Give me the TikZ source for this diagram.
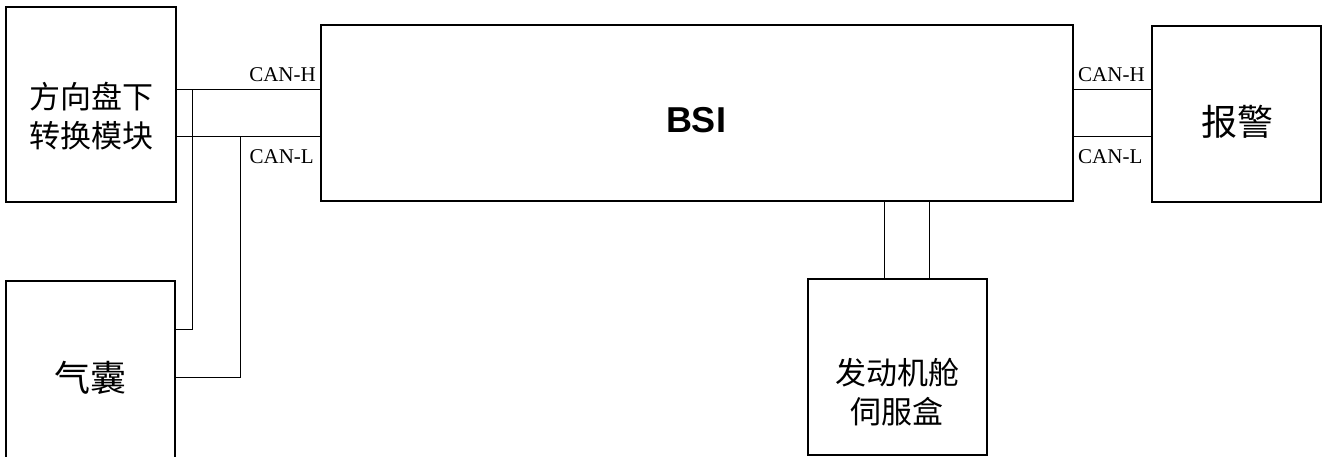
\documentclass[tikz,border=0pt]{standalone}
\usepackage{fontspec}
\setmainfont{Liberation Serif}
\newfontfamily\cjk{Noto Sans CJK SC}
\newfontfamily\arialf{Liberation Sans}
\begin{document}
\begin{tikzpicture}[x=1pt,y=-1pt,
  box/.style={draw,line width=1.6pt,inner sep=0pt,minimum width=#1},
  wire/.style={line width=1pt},
  canlbl/.style={inner sep=0pt,font=\fontsize{21}{24}\selectfont},
  cjklbl/.style={inner sep=0pt,align=center,font=\cjk\fontsize{#1}{39}\selectfont}]
\useasboundingbox (0,0) rectangle (1325,457);
% boxes
\node[box=170pt,minimum height=195pt] (A) at (91,104.5) {};
\node[box=169pt,minimum height=194pt] (B) at (90.5,378) {};
\node[box=752pt,minimum height=176pt] (BSI) at (697,113) {};
\node[box=169pt,minimum height=176pt] (W) at (1236.5,114) {};
\node[box=179pt,minimum height=176pt] (E) at (897.5,367) {};
% texts
\node[cjklbl=31] (tA) at (91,116.5) {方向盘下\\转换模块};
\node[cjklbl=36] (tB) at (90,378) {气囊};
\node[inner sep=0pt,font=\arialf\bfseries\fontsize{36}{40}\selectfont] (tBSI) at (696,120) {BSI};
\node[cjklbl=36] (tW) at (1237,122) {报警};
\node[cjklbl=31] (tE) at (897,392) {发动机舱\\伺服盒};
% helper coordinates
\coordinate (h) at (0,89.5);
\coordinate (l) at (0,137);
\coordinate (v1) at (192,0);
\coordinate (v2) at (240,0);
\coordinate (b1) at (0,329);
\coordinate (b2) at (0,377);
\coordinate (e1) at (884,0);
\coordinate (e2) at (929,0);
% left bus
\draw[wire] (A.east |- h) -- (BSI.west |- h);
\draw[wire] (A.east |- l) -- (BSI.west |- l);
\draw[wire] (v1 |- h) -- (v1 |- b1) -- (B.east |- b1);
\draw[wire] (v2 |- l) -- (v2 |- b2) -- (B.east |- b2);
% right bus
\draw[wire] (BSI.east |- h) -- (W.west |- h);
\draw[wire] (BSI.east |- l) -- (W.west |- l);
% bottom
\draw[wire] (BSI.south -| e1) -- (E.north -| e1);
\draw[wire] (BSI.south -| e2) -- (E.north -| e2);
% labels
\node[canlbl,anchor=base east] (cl1) at (316,82) {CAN-H};
\node[canlbl,anchor=base east] (cl2) at (314,164) {CAN-L};
\node[canlbl,anchor=base west] (cr1) at (1078,82) {CAN-H};
\node[canlbl,anchor=base west] (cr2) at (1078,164) {CAN-L};
\end{tikzpicture}
\end{document}
